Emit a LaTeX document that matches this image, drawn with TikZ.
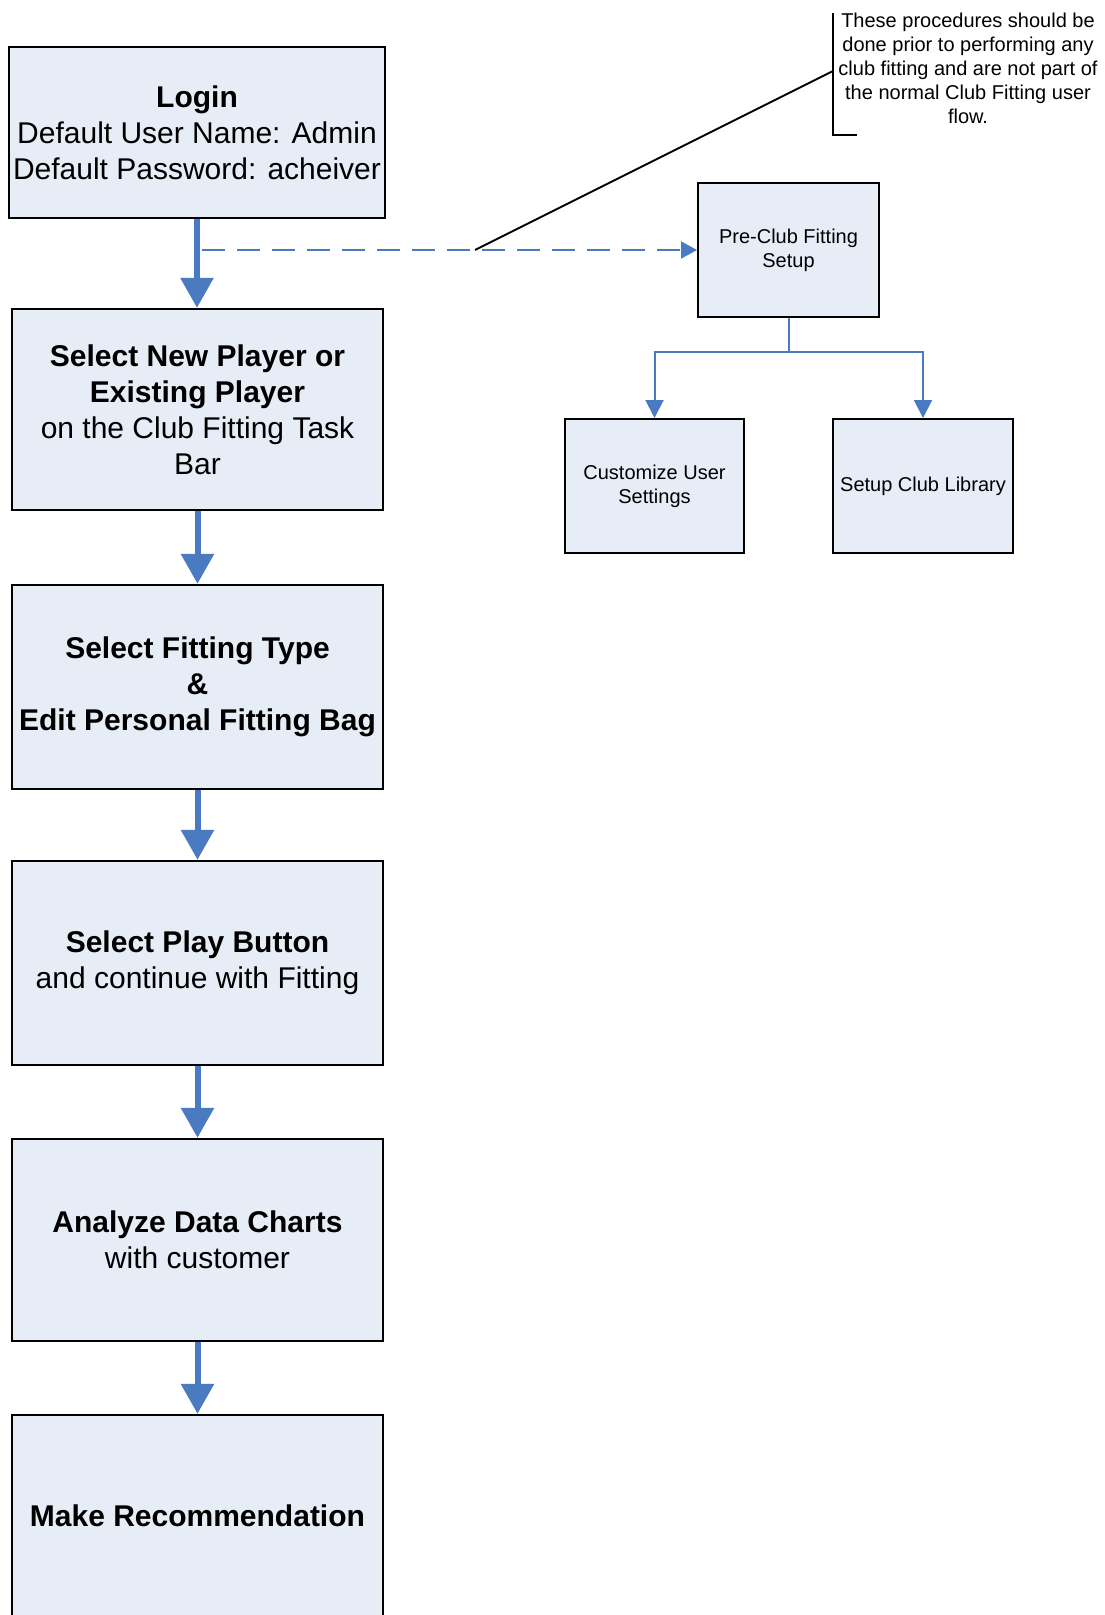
\documentclass[tikz,border=0pt]{standalone}
\usepackage{fontspec}
\setmainfont{Liberation Sans}
\usetikzlibrary{arrows.meta, positioning, calc}
\definecolor{cfblue}{HTML}{4A7AC0}
\definecolor{cffill}{HTML}{E7EDF7}

\begin{document}
\begin{tikzpicture}[
    x=0.5pt, y=-0.5pt,
    mainbox/.style={
        rectangle,
        draw=black,
        line width=1.2pt,
        fill=cffill,
        minimum width=185.5pt,
        minimum height=#1,
        align=center,
        inner sep=1pt,
        font=\fontsize{15}{18}\selectfont
    },
    setupbox/.style={
        rectangle,
        draw=black,
        line width=1pt,
        fill=cffill,
        minimum width=#1,
        minimum height=67pt,
        align=center,
        inner sep=1pt,
        font=\fontsize{10}{12}\selectfont
    },
    flow/.style={
        -{Triangle[length=15pt, width=16pt]},
        line width=3pt,
        cfblue
    },
    dashflow/.style={
        -{Triangle[length=8pt, width=8.5pt]},
        line width=1pt,
        dash pattern=on 11.5pt off 6pt,
        cfblue
    },
    subflow/.style={
        -{Triangle[length=9pt, width=9pt]},
        line width=1pt,
        cfblue
    },
    callout/.style={
        line width=1pt,
        black
    },
    notetext/.style={
        align=center,
        inner sep=0pt,
        font=\fontsize{10}{12}\selectfont
    }
]

\useasboundingbox (0,0) rectangle (1104,1615);

% Main flow
\node[mainbox=85.5pt, minimum width=188pt] (login) at (197,132.5)
    {\textbf{Login}\\Default User Name: Admin\\Default Password: acheiver};
\node[mainbox=100.5pt] (player) at (197.5,409.5)
    {\textbf{Select New Player or}\\\textbf{Existing Player}\\on the Club Fitting Task\\Bar};
\node[mainbox=102pt] (fittype) at (197.5,687)
    {\textbf{Select Fitting Type}\\\textbf{\&}\\\textbf{Edit Personal Fitting Bag}};
\node[mainbox=102pt] (play) at (197.5,963)
    {\textbf{Select Play Button}\\and continue with Fitting};
\node[mainbox=101pt] (analyze) at (197.5,1240)
    {\textbf{Analyze Data Charts}\\with customer};
\node[mainbox=101pt] (recommend) at (197.5,1516)
    {\textbf{Make Recommendation}};

\draw[flow] (login.south) -- (login.south |- player.north);
\draw[flow] (player.south) -- (fittype.north);
\draw[flow] (fittype.south) -- (play.north);
\draw[flow] (play.south) -- (analyze.north);
\draw[flow] (analyze.south) -- (recommend.north);

% Setup branch
\node[setupbox=90.5pt] (preclub) at (788.5,250) {Pre-Club Fitting\\Setup};
\node[setupbox=89.5pt] (custom) at (654.5,486) {Customize User\\Settings};
\node[setupbox=90pt] (library) at (923,486) {Setup Club Library};

\coordinate (dashstart) at (202,250);
\draw[dashflow] (dashstart) -- (preclub.west);

\draw[subflow] (preclub.south) -- ++(0,34) -| (custom.north);
\draw[subflow] (preclub.south) -- ++(0,34) -| (library.north);

% Note
\coordinate (kink) at (475,250);
\coordinate (notetop) at (833,13);
\coordinate (notemid) at (833,71);
\coordinate (notebot) at (833,135);
\draw[callout] (kink) -- (notemid);
\draw[callout] (notetop) -- (notebot) -- ++(24,0);
\node[notetext] (note) at (968,68)
    {These procedures should be\\done prior to performing any\\club fitting and are not part of\\the normal Club Fitting user\\flow.};

\end{tikzpicture}
\end{document}
